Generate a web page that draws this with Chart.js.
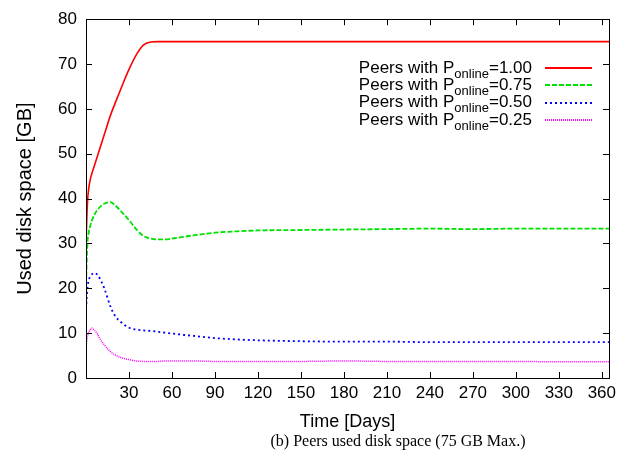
<!DOCTYPE html>
<html>
<head>
<meta charset="utf-8">
<script src="https://cdn.jsdelivr.net/npm/chart.js@4/dist/chart.umd.min.js"></script>
<style>
  html, body { margin: 0; padding: 0; background: #fff; }
  #wrap { width: 644px; height: 454px; }
</style>
</head>
<body>
<div id="wrap"><canvas id="c" width="644" height="454"></canvas></div>
<script>
const days = [0, 1, 2, 3, 4, 6, 8, 10, 13, 17, 20, 25, 30, 35, 40, 45, 50, 55, 60, 75, 90, 105, 120, 150, 180, 210, 240, 270, 300, 330, 365];

const online100 = [30, 39, 42.5, 44.3, 45.5, 47.5, 49.5, 51.5, 54.5, 58.5, 61, 65, 68.8, 72, 74.2, 74.9, 75, 75, 75, 75, 75, 75, 75, 75, 75, 75, 75, 75, 75, 75, 75];
const online075 = [21, 30, 32.6, 34, 35, 36.5, 37.5, 38.2, 38.9, 39.2, 38.6, 37, 35.2, 33.2, 31.7, 31.1, 30.9, 30.9, 31.1, 31.8, 32.4, 32.7, 32.9, 33, 33.1, 33.2, 33.3, 33.2, 33.3, 33.3, 33.3];
const online050 = [15.4, 20, 21.9, 22.6, 23.1, 23.4, 23.0, 22.0, 19.8, 16.0, 14.0, 12.3, 11.2, 10.8, 10.6, 10.5, 10.3, 10.1, 9.9, 9.4, 8.9, 8.6, 8.4, 8.2, 8.1, 8.1, 8.0, 8.0, 8.0, 8.0, 8.0];
const online025 = [7.3, 9.3, 10.2, 10.8, 11.1, 10.6, 9.8, 8.6, 7.3, 5.9, 5.2, 4.5, 4.1, 3.8, 3.7, 3.7, 3.7, 3.8, 3.8, 3.8, 3.7, 3.7, 3.7, 3.7, 3.8, 3.7, 3.7, 3.7, 3.7, 3.6, 3.6];

const probLabels = ['1.00', '0.75', '0.50', '0.25'];
const xTicks = [30, 60, 90, 120, 150, 180, 210, 240, 270, 300, 330, 360];
const yTicks = [0, 10, 20, 30, 40, 50, 60, 70, 80];
const caption = '(b) Peers used disk space (75 GB Max.)';

const pts = vals => days.map((d, i) => ({ x: d, y: vals[i] }));

function makeSet(vals, color, dash, width) {
  return {
    data: pts(vals),
    borderColor: color,
    borderWidth: width,
    borderDash: dash,
    pointRadius: 0,
    fill: false,
    cubicInterpolationMode: 'monotone'
  };
}

// gnuplot-like frame with inward ticks on all four sides
const framePlugin = {
  id: 'frame',
  afterDraw(chart) {
    const { ctx, chartArea: a, scales: { x, y } } = chart;
    ctx.save();
    ctx.strokeStyle = '#000';
    ctx.lineWidth = 1;
    ctx.beginPath();
    xTicks.forEach(v => {
      const px = Math.round(x.getPixelForValue(v)) + 0.5;
      ctx.moveTo(px, a.bottom); ctx.lineTo(px, a.bottom - 6);
      ctx.moveTo(px, a.top); ctx.lineTo(px, a.top + 6);
    });
    yTicks.forEach(v => {
      const py = Math.round(y.getPixelForValue(v)) + 0.5;
      ctx.moveTo(a.left, py); ctx.lineTo(a.left + 6, py);
      ctx.moveTo(a.right, py); ctx.lineTo(a.right - 6, py);
    });
    ctx.stroke();
    ctx.strokeRect(Math.round(a.left) + 0.5, Math.round(a.top) + 0.5,
      Math.round(a.right - a.left), Math.round(a.bottom - a.top));

    // figure caption, serif, below the axis title
    ctx.fillStyle = '#000';
    ctx.font = '16px "Liberation Serif", "Times New Roman", serif';
    ctx.textAlign = 'center';
    ctx.textBaseline = 'middle';
    ctx.fillText(caption, 398, 442);
    ctx.restore();
  }
};

// legend with subscript "online"
const legendPlugin = {
  id: 'subLegend',
  afterDraw(chart) {
    const { ctx } = chart;
    const textRight = 532, lineStart = 545, lineEnd = 592;
    const mainFont = '17px "Liberation Sans", Arial, sans-serif';
    const subFont = '13px "Liberation Sans", Arial, sans-serif';
    ctx.save();
    chart.data.datasets.forEach((ds, i) => {
      const yRow = 68 + i * 17.4;
      const a = 'Peers with P', s = 'online', b = '=' + probLabels[i];
      ctx.font = mainFont;
      const wa = ctx.measureText(a).width, wb = ctx.measureText(b).width;
      ctx.font = subFont;
      const ws = ctx.measureText(s).width;
      let xx = textRight - (wa + ws + wb);
      ctx.fillStyle = '#000';
      ctx.textBaseline = 'middle';
      ctx.textAlign = 'left';
      ctx.font = mainFont;
      ctx.fillText(a, xx, yRow); xx += wa;
      ctx.font = subFont;
      ctx.fillText(s, xx, yRow + 6); xx += ws;
      ctx.font = mainFont;
      ctx.fillText(b, xx, yRow);

      const ly = Math.round(yRow);
      ctx.strokeStyle = ds.borderColor;
      ctx.lineWidth = Math.max(2, Math.round(ds.borderWidth));
      ctx.setLineDash(ds.borderDash || []);
      ctx.beginPath();
      ctx.moveTo(lineStart, ly);
      ctx.lineTo(lineEnd, ly);
      ctx.stroke();
    });
    ctx.restore();
  }
};

new Chart(document.getElementById('c'), {
  type: 'line',
  data: {
    datasets: [
      makeSet(online100, '#ff0000', [], 1.6),
      makeSet(online075, '#00e000', [5, 2], 1.8),
      makeSet(online050, '#0000ff', [2, 3], 1.8),
      makeSet(online025, '#ff00ff', [1, 1], 1.5)
    ]
  },
  options: {
    responsive: false,
    animation: false,
    layout: { padding: { top: 14, right: 35, left: 0, bottom: 21 } },
    plugins: {
      legend: { display: false },
      tooltip: { enabled: false }
    },
    scales: {
      x: {
        type: 'linear',
        min: 0,
        max: 365,
        afterBuildTicks: s => { s.ticks = xTicks.map(v => ({ value: v })); },
        afterFit: s => { s.height = 55; },
        grid: { display: false, drawTicks: false },
        border: { display: false },
        ticks: {
          color: '#000',
          padding: 5,
          maxRotation: 0,
          font: { family: '"Liberation Sans", Arial, sans-serif', size: 17 }
        },
        title: {
          display: true,
          text: 'Time [Days]',
          color: '#000',
          font: { family: '"Liberation Sans", Arial, sans-serif', size: 18 },
          padding: { top: 0, bottom: 0 }
        }
      },
      y: {
        min: 0,
        max: 80,
        afterBuildTicks: s => { s.ticks = yTicks.map(v => ({ value: v })); },
        afterFit: s => { s.width = 86; },
        grid: { display: false, drawTicks: false },
        border: { display: false },
        ticks: {
          color: '#000',
          padding: 9,
          font: { family: '"Liberation Sans", Arial, sans-serif', size: 17 }
        },
        title: {
          display: true,
          text: 'Used disk space [GB]',
          color: '#000',
          font: { family: '"Liberation Sans", Arial, sans-serif', size: 20 },
          padding: { top: 13, bottom: 0 }
        }
      }
    }
  },
  plugins: [framePlugin, legendPlugin]
});
</script>
</body>
</html>
